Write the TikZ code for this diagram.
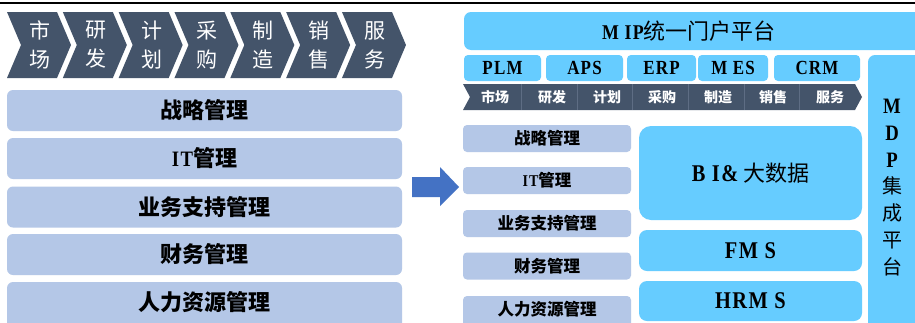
\documentclass[tikz,border=0pt]{standalone}
\usepackage{fontspec}
\setmainfont{Liberation Serif}
\newfontfamily\cjk{Noto Sans CJK SC}
\newfontfamily\lat{Liberation Serif}[FakeStretch=0.85, LetterSpace=6]
\definecolor{chev}{HTML}{44546A}
\definecolor{lboxc}{HTML}{B4C7E7}
\definecolor{cyanc}{HTML}{66CCFF}
\definecolor{arrowc}{HTML}{4472C4}
\definecolor{divc}{HTML}{5E6D84}
\tikzset{
  chevtext/.style={text=white, align=center, inner sep=0pt, font=\cjk\fontsize{21}{29}\selectfont},
  lbox/.style={fill=lboxc, rounded corners=6pt, minimum width=395pt, minimum height=41pt, inner sep=0pt, font=\cjk\bfseries\fontsize{22}{22}\selectfont},
  sbox/.style={fill=lboxc, rounded corners=4pt, minimum width=168pt, minimum height=27pt, inner sep=0pt, font=\cjk\bfseries\fontsize{16.5}{16.5}\selectfont},
  cbox/.style={fill=cyanc, inner sep=0pt},
  systext/.style={font=\lat\bfseries\fontsize{20}{20}\selectfont},
  bigtext/.style={font=\lat\bfseries\fontsize{24}{24}\selectfont},
  bandtext/.style={text=white, inner sep=0pt, font=\cjk\bfseries\fontsize{14}{14}\selectfont},
}
\begin{document}
\begin{tikzpicture}[x=1pt,y=-1pt]
\useasboundingbox (0,0) rectangle (915,322);
\clip (0,0) rectangle (915,322);
\fill[white] (0,0) rectangle (915,322);
\draw[line width=1.5pt] (0,3) -- (915,3);
% left chevrons
\foreach \a/\b [count=\i from 0] in {市/场,研/发,计/划,采/购,制/造,销/售,服/务}{
  \pgfmathsetmacro\xo{7+55.83*\i}
  \fill[chev] (\xo,12) -- ++(50,0) -- ++(14,33) -- ++(-14,33) -- ++(-50,0) -- ++(14,-33) -- cycle;
  \node[chevtext] (c\i) at (\xo+33,45) {\a\\\b};
}
% left boxes
\node[lbox] (l1) at (204.5,110.5) {战略管理};
\node[lbox] (l2) at (204.5,158.5) {{\lat IT}管理};
\node[lbox] (l3) at (204.5,207) {业务支持管理};
\node[lbox] (l4) at (204.5,254.5) {财务管理};
\node[lbox, minimum height=48pt] (l5) at (204.5,306) {};
\node[font=\cjk\bfseries\fontsize{22}{22}\selectfont, inner sep=0pt] (l5t) at (204.5,302) {人力资源管理};
% arrow
\fill[arrowc] (412,177) -- (440,177) -- (440,167) -- (459,187) -- (440,206) -- (440,197) -- (412,197) -- cycle;
% MIP portal
\node[cbox, rounded corners=7pt, minimum width=461pt, minimum height=38pt] (mip) at (694.5,31) {};
\node[inner sep=0pt, font=\cjk\fontsize{22}{22}\selectfont] (miptext) at (689,31) {{\lat\bfseries\fontsize{21}{21}\selectfont M IP}统一门户平台};
% systems
\node[cbox, rounded corners=4pt, minimum width=77pt, minimum height=26pt, systext] (plm) at (502.5,68) {PLM};
\node[cbox, rounded corners=4pt, minimum width=77pt, minimum height=26pt, systext] (aps) at (584.5,68) {APS};
\node[cbox, rounded corners=4pt, minimum width=69pt, minimum height=26pt, systext] (erp) at (661.5,68) {ERP};
\node[cbox, rounded corners=4pt, minimum width=70pt, minimum height=26pt, systext] (mes) at (733,68) {M ES};
\node[cbox, rounded corners=4pt, minimum width=86pt, minimum height=26pt, systext] (crm) at (817,68) {CRM};
% band
\fill[chev] (463,84) -- (855,84) -- (862,97) -- (855,110) -- (463,110) -- (470,97) -- cycle;
\foreach \x in {521,577,632,688,744,799}{
  \draw[divc, line width=0.6pt] (\x,84) -- (\x,110);
}
\foreach \t/\x [count=\i] in {市场/495,研发/552,计划/607,采购/662,制造/718,销售/773,服务/830}{
  \node[bandtext] (b\i) at (\x,97.5) {\t};
}
% MDP column
\node[cbox, rounded corners=7pt, minimum width=57pt, minimum height=275pt] (mdp) at (896.5,192.5) {};
\node[inner sep=0pt, align=center, font=\cjk\fontsize{20}{26.7}\selectfont] (mdptext) at (892,187.5) {{\lat\bfseries\fontsize{22}{26.7}\selectfont M}\\{\lat\bfseries\fontsize{22}{26.7}\selectfont D}\\{\lat\bfseries\fontsize{22}{26.7}\selectfont P}\\集\\成\\平\\台};
% right small boxes
\node[sbox] (s1) at (547,138.5) {战略管理};
\node[sbox] (s2) at (547,180.5) {{\lat IT}管理};
\node[sbox] (s3) at (547,223.5) {业务支持管理};
\node[sbox] (s4) at (547,266) {财务管理};
\node[sbox, minimum height=34pt] (s5) at (547,313) {};
\node[font=\cjk\bfseries\fontsize{16.5}{16.5}\selectfont, inner sep=0pt] (s5t) at (547,309.5) {人力资源管理};
% BI, FMS, HRMS
\node[cbox, rounded corners=12pt, minimum width=223pt, minimum height=94pt, font=\cjk\fontsize{22}{22}\selectfont] (bi) at (750.5,173) {{\lat\bfseries\fontsize{24}{24}\selectfont B I\&} 大数据};
\node[cbox, rounded corners=8pt, minimum width=223pt, minimum height=41pt, bigtext] (fms) at (750.5,250.5) {FM S};
\node[cbox, rounded corners=8pt, minimum width=223pt, minimum height=40pt, bigtext] (hrms) at (750.5,301) {HRM S};
\end{tikzpicture}
\end{document}
